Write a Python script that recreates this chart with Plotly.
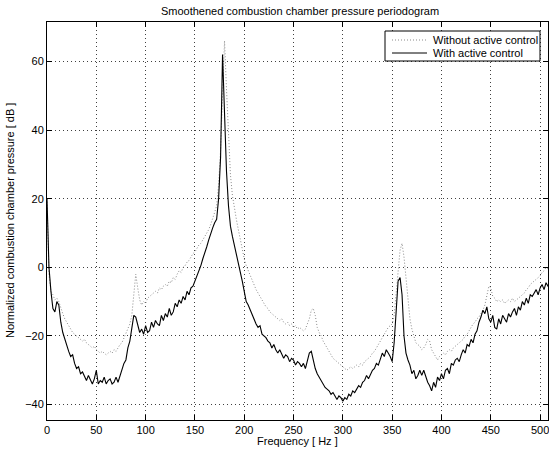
import plotly.graph_objects as go

# Frequency grid (Hz), 2 Hz spacing: 0, 2, ..., 510
freq = list(range(0, 512, 2))

# With active control (solid black), dB
with_control = [
    20, 0, -7, -12, -13, -10, -11, -16, -19, -21,              # 0-18
    -23, -24.5, -26, -25.5, -28, -29.5, -29, -31, -30.5, -32,  # 20-38
    -33, -31.5, -33, -34, -32.5, -30, -34, -33, -33.5, -32,    # 40-58
    -34, -33, -32.5, -34, -33.5, -32, -33.5, -31.5, -30, -28,  # 60-78
    -27, -23.5, -21.5, -17.5, -14, -14.5, -17, -19, -18, -19.5,    # 80-98
    -17, -19, -18.5, -16, -17.5, -15.5, -16.5, -17, -14, -15.5,    # 100-118
    -13.5, -14.5, -12, -14, -13, -10.5, -11.5, -9.5, -10.5, -8.5,  # 120-138
    -9.5, -7, -8, -6, -5.5, -4, -3, -1, 0.5, 2.5,              # 140-158
    4, 6, 8, 10, 11.5, 13, 14, 20, 32, 62,                     # 160-178
    45, 28, 18, 12, 9, 6.5, 4, 1.5, -1, -4,                    # 180-198
    -7, -10, -11, -12.5, -14, -15, -16.5, -17.5, -17, -19.5,   # 200-218
    -20, -20.5, -21.5, -22, -23.5, -22.5, -24, -25, -24, -25.5,    # 220-238
    -26.5, -25.5, -26, -27.5, -26.5, -27, -28.5, -27.5, -28, -29,  # 240-258
    -28, -29.5, -27, -25, -24.5, -27, -29.5, -31, -32, -33,    # 260-278
    -34, -35, -35.5, -36, -37, -36.5, -37.5, -38.5, -37.5, -38,    # 280-298
    -39, -38, -38.5, -37, -37.5, -36, -36.5, -35.5, -34.5, -35,    # 300-318
    -33.5, -33, -31.5, -32.5, -31, -30, -29.5, -28, -28.5, -26.5,  # 320-338
    -25, -26, -24, -25, -26, -27.5, -22, -13, -4, -3,          # 340-358
    -8, -20, -25, -27, -28.5, -31, -30, -32.5, -31.5, -30,     # 360-378
    -31.5, -30, -32, -33.5, -34.5, -36, -33.5, -35, -32, -33,  # 380-398
    -31, -32.5, -30, -29.5, -31, -28, -28.5, -27, -26.5, -27.5,    # 400-418
    -25.5, -24, -25, -22.5, -23, -21, -22, -19.5, -18.5, -16,      # 420-438
    -14.5, -12.5, -13.5, -11.5, -15, -16, -14, -17.5, -18, -15,    # 440-458
    -16.5, -14, -15, -16, -13.5, -14.5, -13, -12, -14, -11.5,      # 460-478
    -12.5, -10, -11, -9, -10.5, -8, -8.5, -7.5, -6.5, -8,          # 480-498
    -6, -5, -6.5, -4.5, -5.5, -5,                              # 500-510
]

# Without active control (dotted grey), dB
without_control = [
    20, -2, -7, -8, -9.5, -9, -10, -12, -13.5, -15,            # 0-18
    -16, -17, -18, -19, -19.5, -20, -20.5, -21, -21.5, -21,    # 20-38
    -22, -22.5, -23, -23.5, -23, -24, -24.5, -25, -24.5, -25,  # 40-58
    -25.5, -25, -24.5, -25, -24, -24.5, -23.5, -22.5, -22, -20.5,  # 60-78
    -19.5, -18, -16.5, -14, -8, -2, -6, -9.5, -11, -10,        # 80-98
    -10.5, -9, -8.5, -8, -7.5, -7, -7.5, -6, -6.5, -5.5,       # 100-118
    -5, -5.5, -4, -4.5, -3, -3.5, -2, -1, -1.5, 0,             # 120-138
    0.5, 1.5, 2, 3, 4, 4.5, 5.5, 6.5, 7, 8,                    # 140-158
    9, 10, 11, 12.5, 14, 16, 18, 24, 34, 50,                   # 160-178
    66, 52, 38, 27, 21, 17, 14, 11, 8, 5,                      # 180-198
    2.5, 0.5, -1, -2.5, -4, -5, -6.5, -7.5, -8.5, -9.5,        # 200-218
    -10.5, -11.5, -12, -13, -13.5, -14, -14.5, -15, -15.5, -15,  # 220-238
    -16, -16.5, -16, -17, -16.5, -17.5, -17, -18, -17.5, -18,  # 240-258
    -18.5, -18, -16.5, -15, -12.5, -12, -14, -17.5, -19, -20,  # 260-278
    -21.5, -22.5, -23.5, -24.5, -25.5, -26.5, -27, -27.5, -28, -28.5,  # 280-298
    -29, -29.5, -30, -29.5, -29, -29.5, -29, -28.5, -29, -28,  # 300-318
    -28.5, -27.5, -27, -26.5, -26, -25, -24.5, -23.5, -22.5, -21.5,  # 320-338
    -20.5, -19.5, -18.5, -17.5, -17, -16.5, -14, -8, 0, 5,     # 340-358
    7, 3, -3, -10, -15, -18, -20, -22, -22.5, -23,             # 360-378
    -24, -23.5, -22.5, -21, -21.5, -24, -25, -26, -27, -26,    # 380-398
    -25.5, -25, -25.5, -24.5, -24, -24.5, -23.5, -23, -22.5, -22,  # 400-418
    -21.5, -21, -20, -19.5, -18.5, -17.5, -16.5, -16, -15, -14.5,  # 420-438
    -13.5, -12.5, -11, -8, -5.5, -6, -8.5, -9, -10, -9.5,      # 440-458
    -10, -9.5, -10.5, -10, -9.5, -10, -9, -10, -9.5, -9,       # 460-478
    -8.5, -8, -7.5, -6.5, -6, -5, -4.5, -4, -3.5, -3,          # 480-498
    -2.5, -1.5, -1, 0, -0.5, -1,                               # 500-510
]

series_names = ["Without active control", "With active control"]
x_ticks = [0, 50, 100, 150, 200, 250, 300, 350, 400, 450, 500]
y_ticks = [-40, -20, 0, 20, 40, 60]

FONT = "Liberation Sans, Arial, Helvetica, sans-serif"
W, H = 549, 452
ML, MR, MT, MB = 47, 1, 22, 32
PW, PH = W - ML - MR, H - MT - MB


def px(x):  # page pixel x -> paper x
    return (x - ML) / PW


def py(y):  # page pixel y -> paper y
    return (H - MB - y) / PH


DOT_STYLE = dict(color="#8a8a8a", width=1, dash="1px,2px")
SOLID_STYLE = dict(color="black", width=1.1)

fig = go.Figure()
fig.add_trace(go.Scatter(x=freq, y=without_control, mode="lines",
                         name=series_names[0], line=DOT_STYLE, showlegend=False))
fig.add_trace(go.Scatter(x=freq, y=with_control, mode="lines",
                         name=series_names[1], line=SOLID_STYLE, showlegend=False))

axis_common = dict(
    showline=True, linecolor="black", linewidth=1, mirror="ticks",
    ticks="inside", ticklen=5, tickcolor="black", tickwidth=1,
    showgrid=True, gridcolor="#404040", griddash="1px,3px", gridwidth=1,
    zeroline=False, tickfont=dict(family=FONT, size=11, color="black"),
    automargin=False, ticklabeloverflow="allow",
)
fig.update_xaxes(range=[0, 508], tickvals=x_ticks, **axis_common)
fig.update_yaxes(range=[-44.5, 71.5], tickvals=y_ticks, **axis_common)

# Legend drawn as a boxed key in the upper-right corner
shapes = [
    dict(type="rect", xref="paper", yref="paper",
         x0=px(385), x1=px(540), y0=py(61), y1=py(31),
         line=dict(color="black", width=1), fillcolor="white", layer="above"),
    dict(type="line", xref="paper", yref="paper",
         x0=px(392), x1=px(427), y0=py(40), y1=py(40),
         line=DOT_STYLE, layer="above"),
    dict(type="line", xref="paper", yref="paper",
         x0=px(392), x1=px(427), y0=py(53), y1=py(53),
         line=dict(color="black", width=1), layer="above"),
]

annotations = [
    dict(text=series_names[0], x=px(431), y=py(40), xref="paper", yref="paper",
         xanchor="left", yanchor="middle", showarrow=False,
         font=dict(family=FONT, size=11, color="black")),
    dict(text=series_names[1], x=px(431), y=py(53), xref="paper", yref="paper",
         xanchor="left", yanchor="middle", showarrow=False,
         font=dict(family=FONT, size=11, color="black")),
    dict(text="Frequency [ Hz ]", x=0.5, y=py(441), xref="paper", yref="paper",
         xanchor="center", yanchor="middle", showarrow=False,
         font=dict(family=FONT, size=11, color="black")),
    dict(text="Normalized combustion chamber pressure [ dB ]", textangle=-90,
         x=px(10), y=0.5, xref="paper", yref="paper",
         xanchor="center", yanchor="middle", showarrow=False,
         font=dict(family=FONT, size=11, color="black")),
]

fig.update_layout(
    width=W, height=H,
    margin=dict(l=ML, r=MR, t=MT, b=MB, pad=0),
    paper_bgcolor="white", plot_bgcolor="white",
    font=dict(family=FONT, size=11, color="black"),
    title=dict(text="Smoothened combustion chamber pressure periodogram",
               x=px(300), xref="paper", xanchor="center",
               y=1 - 11 / H, yref="container", yanchor="middle",
               font=dict(family=FONT, size=11, color="black")),
    showlegend=False,
    shapes=shapes,
    annotations=annotations,
)

fig.write_html(
    "out.html",
    config={"displayModeBar": False},
    post_script="document.body.style.margin='0';document.body.style.padding='0';"
                "document.body.style.overflow='hidden';",
)
